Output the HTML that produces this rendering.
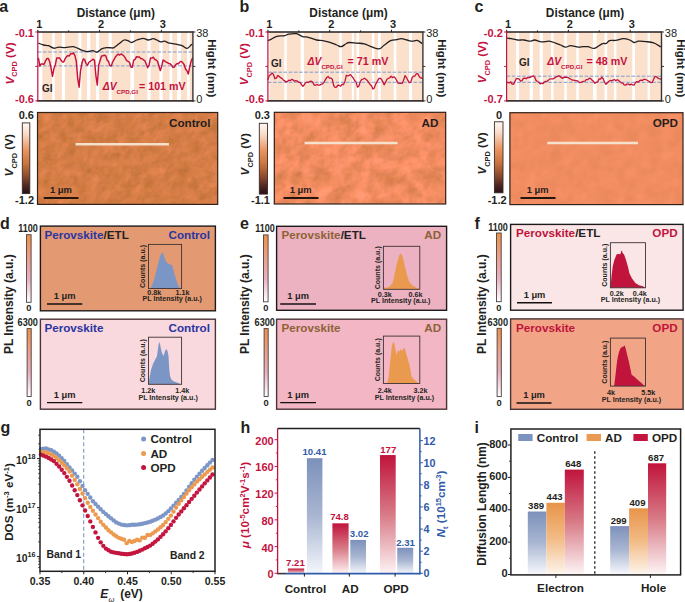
<!DOCTYPE html>
<html><head><meta charset="utf-8"><title>Figure</title>
<style>
html,body{margin:0;padding:0;background:#ffffff;}
body{width:685px;height:602px;overflow:hidden;}
svg{display:block;}
text{font-family:"Liberation Sans",sans-serif;}
</style></head><body>
<svg width="685" height="602" viewBox="0 0 685 602">
<rect x="0" y="0" width="685" height="602" fill="#ffffff"/>
<defs>
<linearGradient id="cbAFM" x1="0" y1="0" x2="0" y2="1">
 <stop offset="0" stop-color="#fffaf6"/>
 <stop offset="0.15" stop-color="#f9dccb"/>
 <stop offset="0.4" stop-color="#e8915b"/>
 <stop offset="0.58" stop-color="#c8743e"/>
 <stop offset="0.76" stop-color="#8a4a2e"/>
 <stop offset="0.9" stop-color="#4a2420"/>
 <stop offset="1" stop-color="#2a1018"/>
</linearGradient>
<linearGradient id="cbPL" x1="0" y1="0" x2="0" y2="1">
 <stop offset="0" stop-color="#ec9148"/>
 <stop offset="0.35" stop-color="#eba08c"/>
 <stop offset="0.65" stop-color="#e9b0c0"/>
 <stop offset="1" stop-color="#ffffff"/>
</linearGradient>
<linearGradient id="gRed" x1="0" y1="0" x2="0" y2="1">
 <stop offset="0" stop-color="#c0143c"/>
 <stop offset="0.5" stop-color="#d87a86"/>
 <stop offset="1" stop-color="#fdf3f4"/>
</linearGradient>
<linearGradient id="gBlue" x1="0" y1="0" x2="0" y2="1">
 <stop offset="0" stop-color="#7c91bb"/>
 <stop offset="0.5" stop-color="#a9b6d2"/>
 <stop offset="1" stop-color="#f4f6fb"/>
</linearGradient>
<linearGradient id="gOrg" x1="0" y1="0" x2="0" y2="1">
 <stop offset="0" stop-color="#e8944a"/>
 <stop offset="0.5" stop-color="#f2bb85"/>
 <stop offset="1" stop-color="#fdf4ea"/>
</linearGradient>
<filter id="afmA" x="0" y="0" width="1" height="1" color-interpolation-filters="sRGB">
 <feTurbulence type="fractalNoise" baseFrequency="0.09" numOctaves="3" seed="5" result="n"/>
 <feColorMatrix in="n" type="matrix" values="1 0 0 0 0  0.55 0 0 0 0.225  0.8 0 0 0 0.1  0 0 0 0 1" result="m"/>
 <feComposite in="SourceGraphic" in2="m" operator="arithmetic" k1="0" k2="1" k3="0.16" k4="-0.08" result="c"/>
 <feDiffuseLighting in="n" surfaceScale="1.4" diffuseConstant="1" lighting-color="#ffffff" result="L">
   <feDistantLight azimuth="225" elevation="55"/>
 </feDiffuseLighting>
 <feComposite in="c" in2="L" operator="arithmetic" k1="0.3" k2="0.755" k3="0" k4="0"/>
</filter>
<filter id="afmB" x="0" y="0" width="1" height="1" color-interpolation-filters="sRGB">
 <feTurbulence type="fractalNoise" baseFrequency="0.07" numOctaves="3" seed="7" result="n"/>
 <feColorMatrix in="n" type="matrix" values="1 0 0 0 0  0.55 0 0 0 0.225  0.8 0 0 0 0.1  0 0 0 0 1" result="m"/>
 <feComposite in="SourceGraphic" in2="m" operator="arithmetic" k1="0" k2="1" k3="0.28" k4="-0.14" result="c"/>
 <feDiffuseLighting in="n" surfaceScale="1.5" diffuseConstant="1" lighting-color="#ffffff" result="L">
   <feDistantLight azimuth="225" elevation="55"/>
 </feDiffuseLighting>
 <feComposite in="c" in2="L" operator="arithmetic" k1="0.3" k2="0.755" k3="0" k4="0"/>
</filter>
<filter id="afmC" x="0" y="0" width="1" height="1" color-interpolation-filters="sRGB">
 <feTurbulence type="fractalNoise" baseFrequency="0.08" numOctaves="2" seed="3" result="n"/>
 <feColorMatrix in="n" type="matrix" values="1 0 0 0 0  0.55 0 0 0 0.225  0.8 0 0 0 0.1  0 0 0 0 1" result="m"/>
 <feComposite in="SourceGraphic" in2="m" operator="arithmetic" k1="0" k2="1" k3="0.08" k4="-0.04" result="c"/>
 <feDiffuseLighting in="n" surfaceScale="0.5" diffuseConstant="1" lighting-color="#ffffff" result="L">
   <feDistantLight azimuth="225" elevation="55"/>
 </feDiffuseLighting>
 <feComposite in="c" in2="L" operator="arithmetic" k1="0.3" k2="0.755" k3="0" k4="0"/>
</filter>
</defs>
<text x="-0.80" y="12.00" font-size="16" font-weight="bold" fill="#231f20" text-anchor="start" >a</text>
<text x="239.50" y="12.00" font-size="16" font-weight="bold" fill="#231f20" text-anchor="start" >b</text>
<text x="474.60" y="12.00" font-size="16" font-weight="bold" fill="#231f20" text-anchor="start" >c</text>
<text x="0.00" y="229.00" font-size="16" font-weight="bold" fill="#231f20" text-anchor="start" >d</text>
<text x="240.00" y="228.60" font-size="16" font-weight="bold" fill="#231f20" text-anchor="start" >e</text>
<text x="474.50" y="228.60" font-size="16" font-weight="bold" fill="#231f20" text-anchor="start" >f</text>
<text x="0.50" y="432.50" font-size="16" font-weight="bold" fill="#231f20" text-anchor="start" >g</text>
<text x="240.50" y="432.90" font-size="16" font-weight="bold" fill="#231f20" text-anchor="start" >h</text>
<text x="474.50" y="432.60" font-size="16" font-weight="bold" fill="#231f20" text-anchor="start" >i</text>
<rect x="37.80" y="32.00" width="155.10" height="68.90" fill="#fbe0cc" stroke="none" stroke-width="1" />
<rect x="37.80" y="32.00" width="4.50" height="68.90" fill="#ffffff" stroke="none" stroke-width="1" />
<rect x="52.20" y="32.00" width="2.50" height="68.90" fill="#ffffff" stroke="none" stroke-width="1" />
<rect x="61.90" y="32.00" width="3.10" height="68.90" fill="#ffffff" stroke="none" stroke-width="1" />
<rect x="78.30" y="32.00" width="3.10" height="68.90" fill="#ffffff" stroke="none" stroke-width="1" />
<rect x="87.10" y="32.00" width="3.20" height="68.90" fill="#ffffff" stroke="none" stroke-width="1" />
<rect x="96.00" y="32.00" width="3.10" height="68.90" fill="#ffffff" stroke="none" stroke-width="1" />
<rect x="108.60" y="32.00" width="3.10" height="68.90" fill="#ffffff" stroke="none" stroke-width="1" />
<rect x="130.40" y="32.00" width="3.60" height="68.90" fill="#ffffff" stroke="none" stroke-width="1" />
<rect x="147.40" y="32.00" width="3.20" height="68.90" fill="#ffffff" stroke="none" stroke-width="1" />
<rect x="159.40" y="32.00" width="3.20" height="68.90" fill="#ffffff" stroke="none" stroke-width="1" />
<rect x="169.50" y="32.00" width="2.80" height="68.90" fill="#ffffff" stroke="none" stroke-width="1" />
<rect x="177.10" y="32.00" width="3.80" height="68.90" fill="#ffffff" stroke="none" stroke-width="1" />
<rect x="187.20" y="32.00" width="2.50" height="68.90" fill="#ffffff" stroke="none" stroke-width="1" />
<line x1="37.80" y1="52.00" x2="192.90" y2="52.00" stroke="#7f9ccf" stroke-width="1.0" stroke-dasharray="3.6,1.6"/>
<line x1="37.80" y1="65.90" x2="192.90" y2="65.90" stroke="#7f9ccf" stroke-width="1.0" stroke-dasharray="3.6,1.6"/>
<path d="M38.50,43.10 C39.35,43.42 41.92,44.57 43.60,45.00 C45.28,45.43 46.92,45.17 48.60,45.70 C50.28,46.23 52.02,47.95 53.70,48.20 C55.38,48.45 56.82,47.30 58.70,47.20 C60.58,47.10 62.68,47.68 65.00,47.60 C67.32,47.52 70.50,46.60 72.60,46.70 C74.70,46.80 75.92,47.57 77.60,48.20 C79.28,48.83 81.02,49.92 82.70,50.50 C84.38,51.08 86.02,51.67 87.70,51.70 C89.38,51.73 91.22,50.62 92.80,50.70 C94.38,50.78 95.73,52.52 97.20,52.20 C98.67,51.88 100.02,49.57 101.60,48.80 C103.18,48.03 105.02,47.75 106.70,47.60 C108.38,47.45 110.48,47.90 111.70,47.90 C112.92,47.90 112.78,48.28 114.00,47.60 C115.22,46.92 117.32,45.07 119.00,43.80 C120.68,42.53 122.62,40.53 124.10,40.00 C125.58,39.47 126.63,40.18 127.90,40.60 C129.17,41.02 130.23,42.60 131.70,42.50 C133.17,42.40 134.82,40.70 136.70,40.00 C138.58,39.30 141.10,38.30 143.00,38.30 C144.90,38.30 146.42,39.93 148.10,40.00 C149.78,40.07 151.63,38.70 153.10,38.70 C154.57,38.70 155.63,39.47 156.90,40.00 C158.17,40.53 159.43,41.70 160.70,41.90 C161.97,42.10 163.03,41.00 164.50,41.20 C165.97,41.40 167.40,42.57 169.50,43.10 C171.60,43.63 175.00,43.97 177.10,44.40 C179.20,44.83 180.42,45.03 182.10,45.70 C183.78,46.37 185.72,48.52 187.20,48.40 C188.68,48.28 190.13,45.70 191.00,45.00 C191.87,44.30 192.17,44.33 192.40,44.20" fill="none" stroke="#231f20" stroke-width="1.3" stroke-linejoin="round"/>
<polyline points="38.50,58.44 39.90,66.15 41.30,63.90 42.70,64.03 44.10,64.26 45.50,60.98 46.90,58.53 48.30,58.45 49.70,61.80 51.10,68.41 52.50,76.39 53.90,68.78 55.30,64.88 56.70,58.06 58.10,58.03 59.50,57.87 60.90,60.08 62.30,61.67 63.70,61.93 65.10,58.80 66.50,56.68 67.90,55.60 69.30,55.95 70.70,53.76 72.10,53.88 73.50,52.83 74.90,55.64 76.30,61.20 77.70,78.44 79.10,87.20 80.50,70.89 81.90,63.27 83.30,58.91 84.70,59.64 86.10,63.62 87.50,65.23 88.90,62.25 90.30,61.29 91.70,60.23 93.10,59.16 94.50,60.33 95.90,75.56 97.30,85.10 98.70,65.26 100.10,60.53 101.50,55.95 102.90,55.72 104.30,55.29 105.70,55.66 107.10,60.11 108.50,61.39 109.90,65.75 111.30,65.93 112.70,61.84 114.10,59.31 115.50,56.83 116.90,55.29 118.30,54.12 119.70,55.02 121.10,53.98 122.50,54.77 123.90,55.98 125.30,58.18 126.70,60.52 128.10,61.30 129.50,62.58 130.90,66.97 132.30,67.21 133.70,60.06 135.10,59.28 136.50,56.71 137.90,57.00 139.30,56.88 140.70,58.44 142.10,58.77 143.50,59.83 144.90,60.83 146.30,64.16 147.70,67.68 149.10,64.98 150.50,58.07 151.90,58.10 153.30,57.21 154.70,59.36 156.10,60.02 157.50,61.20 158.90,66.06 160.30,70.50 161.70,66.39 163.10,60.01 164.50,60.93 165.90,61.91 167.30,62.62 168.70,63.44 170.10,63.72 171.50,65.29 172.90,67.22 174.30,67.15 175.70,64.56 177.10,63.50 178.50,63.76 179.90,61.86 181.30,61.41 182.70,62.67 184.10,64.44 185.50,69.01 186.90,70.71 188.30,73.99 189.70,66.96 191.10,61.23 192.40,58.30" fill="none" stroke="#c4123f" stroke-width="1.45" stroke-linejoin="round" stroke-linecap="round" />
<line x1="37.30" y1="32.00" x2="193.50" y2="32.00" stroke="#231f20" stroke-width="1.6" />
<line x1="37.30" y1="100.90" x2="193.50" y2="100.90" stroke="#3a3435" stroke-width="1.6" />
<line x1="37.80" y1="32.00" x2="37.80" y2="101.40" stroke="#c4123f" stroke-width="1.2" />
<line x1="192.90" y1="31.40" x2="192.90" y2="101.70" stroke="#3a3435" stroke-width="1.4" />
<line x1="37.80" y1="32.00" x2="37.80" y2="29.80" stroke="#231f20" stroke-width="1.0" />
<line x1="68.70" y1="32.00" x2="68.70" y2="30.40" stroke="#231f20" stroke-width="1.0" />
<line x1="99.60" y1="32.00" x2="99.60" y2="29.80" stroke="#231f20" stroke-width="1.0" />
<line x1="130.50" y1="32.00" x2="130.50" y2="30.40" stroke="#231f20" stroke-width="1.0" />
<line x1="161.40" y1="32.00" x2="161.40" y2="29.80" stroke="#231f20" stroke-width="1.0" />
<text x="39.30" y="27.80" font-size="11" font-weight="bold" fill="#231f20" text-anchor="middle" >1</text>
<text x="101.10" y="27.80" font-size="11" font-weight="bold" fill="#231f20" text-anchor="middle" >2</text>
<text x="162.90" y="27.80" font-size="11" font-weight="bold" fill="#231f20" text-anchor="middle" >3</text>
<text x="115.80" y="16.80" font-size="11.85" font-weight="bold" fill="#231f20" text-anchor="middle" >Distance (μm)</text>
<line x1="35.30" y1="32.00" x2="37.80" y2="32.00" stroke="#c4123f" stroke-width="1.0" />
<line x1="35.30" y1="66.45" x2="37.80" y2="66.45" stroke="#c4123f" stroke-width="1.0" />
<line x1="35.30" y1="100.90" x2="37.80" y2="100.90" stroke="#c4123f" stroke-width="1.0" />
<text x="34.00" y="36.80" font-size="11" font-weight="bold" fill="#c4123f" text-anchor="end" >-0.1</text>
<text x="34.00" y="103.40" font-size="11" font-weight="bold" fill="#c4123f" text-anchor="end" >-0.6</text>
<line x1="192.90" y1="32.00" x2="195.40" y2="32.00" stroke="#3a3435" stroke-width="1.0" />
<line x1="192.90" y1="66.45" x2="195.40" y2="66.45" stroke="#3a3435" stroke-width="1.0" />
<line x1="192.90" y1="100.90" x2="195.40" y2="100.90" stroke="#3a3435" stroke-width="1.0" />
<text x="196.20" y="36.70" font-size="11" font-weight="normal" fill="#231f20" text-anchor="start" >38</text>
<text x="196.20" y="103.30" font-size="11" font-weight="normal" fill="#231f20" text-anchor="start" >0</text>
<text transform="translate(13.50,63.50) rotate(-90)" font-size="11.7" font-weight="bold" fill="#c4123f" text-anchor="middle"><tspan font-style="italic">V</tspan><tspan font-size="7.4" dy="3.8">CPD</tspan><tspan dy="-3.8"> (V)</tspan></text>
<text transform="translate(208.20,68.30) rotate(90)" font-size="11.65" font-weight="bold" fill="#231f20" text-anchor="middle">Hight (nm)</text>
<text x="42.00" y="92.00" font-size="10" font-weight="bold" fill="#2b2526" text-anchor="start" >GI</text>
<text x="102.80" y="89.80" font-size="10.7" font-weight="bold" fill="#c4123f"><tspan font-style="italic" font-size="10.3">ΔV</tspan><tspan font-size="6.2" dy="3.8">CPD,GI</tspan><tspan dy="-3.8" x="139.00">= 101 mV</tspan></text>
<rect x="267.90" y="32.00" width="155.00" height="68.90" fill="#fbe0cc" stroke="none" stroke-width="1" />
<rect x="267.90" y="32.00" width="1.60" height="68.90" fill="#ffffff" stroke="none" stroke-width="1" />
<rect x="284.30" y="32.00" width="2.50" height="68.90" fill="#ffffff" stroke="none" stroke-width="1" />
<rect x="300.70" y="32.00" width="3.20" height="68.90" fill="#ffffff" stroke="none" stroke-width="1" />
<rect x="319.00" y="32.00" width="2.50" height="68.90" fill="#ffffff" stroke="none" stroke-width="1" />
<rect x="339.20" y="32.00" width="2.50" height="68.90" fill="#ffffff" stroke="none" stroke-width="1" />
<rect x="351.80" y="32.00" width="2.00" height="68.90" fill="#ffffff" stroke="none" stroke-width="1" />
<rect x="356.60" y="32.00" width="2.50" height="68.90" fill="#ffffff" stroke="none" stroke-width="1" />
<rect x="372.00" y="32.00" width="2.30" height="68.90" fill="#ffffff" stroke="none" stroke-width="1" />
<rect x="378.10" y="32.00" width="2.70" height="68.90" fill="#ffffff" stroke="none" stroke-width="1" />
<rect x="393.80" y="32.00" width="2.60" height="68.90" fill="#ffffff" stroke="none" stroke-width="1" />
<rect x="409.00" y="32.00" width="3.10" height="68.90" fill="#ffffff" stroke="none" stroke-width="1" />
<line x1="267.90" y1="72.20" x2="422.90" y2="72.20" stroke="#7f9ccf" stroke-width="1.0" stroke-dasharray="3.6,1.6"/>
<line x1="267.90" y1="82.30" x2="422.90" y2="82.30" stroke="#7f9ccf" stroke-width="1.0" stroke-dasharray="3.6,1.6"/>
<path d="M267.90,40.60 C268.42,40.40 269.63,40.07 271.00,39.40 C272.37,38.73 273.78,37.23 276.10,36.60 C278.42,35.97 282.80,36.02 284.90,35.60 C287.00,35.18 286.80,34.42 288.70,34.10 C290.60,33.78 293.98,33.28 296.30,33.70 C298.62,34.12 300.72,36.03 302.60,36.60 C304.48,37.17 305.28,36.53 307.60,37.10 C309.92,37.67 313.97,39.42 316.50,40.00 C319.03,40.58 320.70,40.25 322.80,40.60 C324.90,40.95 326.78,41.37 329.10,42.10 C331.42,42.83 334.70,44.23 336.70,45.00 C338.70,45.77 339.55,46.90 341.10,46.70 C342.65,46.50 344.68,44.50 346.00,43.80 C347.32,43.10 347.23,42.62 349.00,42.50 C350.77,42.38 354.07,42.88 356.60,43.10 C359.13,43.32 361.67,43.17 364.20,43.80 C366.73,44.43 369.28,46.07 371.80,46.90 C374.32,47.73 377.20,49.12 379.30,48.80 C381.40,48.48 382.50,46.37 384.40,45.00 C386.30,43.63 388.60,41.50 390.70,40.60 C392.80,39.70 395.22,39.92 397.00,39.60 C398.78,39.28 399.72,38.63 401.40,38.70 C403.08,38.77 405.32,39.58 407.10,40.00 C408.88,40.42 410.42,41.13 412.10,41.20 C413.78,41.27 415.52,40.00 417.20,40.40 C418.88,40.80 421.37,43.07 422.20,43.60" fill="none" stroke="#231f20" stroke-width="1.3" stroke-linejoin="round"/>
<polyline points="267.90,79.61 269.30,75.61 270.70,74.59 272.10,72.94 273.50,74.70 274.90,78.72 276.30,78.11 277.70,75.48 279.10,76.34 280.50,77.69 281.90,78.38 283.30,79.93 284.70,80.84 286.10,82.02 287.50,81.48 288.90,80.15 290.30,80.62 291.70,79.36 293.10,79.95 294.50,81.21 295.90,80.72 297.30,81.09 298.70,82.35 300.10,82.39 301.50,84.71 302.90,86.19 304.30,84.69 305.70,82.73 307.10,82.13 308.50,82.43 309.90,81.30 311.30,81.25 312.70,82.15 314.10,84.84 315.50,85.30 316.90,84.50 318.30,85.19 319.70,85.04 321.10,84.40 322.50,83.88 323.90,82.44 325.30,79.86 326.70,77.54 328.10,76.44 329.50,78.10 330.90,78.06 332.30,79.18 333.70,85.63 335.10,87.46 336.50,87.01 337.90,85.21 339.30,85.48 340.70,86.22 342.10,84.39 343.50,84.48 344.90,81.73 346.30,75.37 347.70,75.83 349.10,75.31 350.50,74.69 351.90,76.32 353.30,78.17 354.70,80.79 356.10,82.11 357.50,87.17 358.90,85.97 360.30,81.61 361.70,79.49 363.10,79.04 364.50,78.22 365.90,79.20 367.30,80.44 368.70,82.67 370.10,84.46 371.50,85.79 372.90,89.03 374.30,87.89 375.70,84.09 377.10,81.67 378.50,79.09 379.90,78.06 381.30,79.15 382.70,81.57 384.10,84.81 385.50,82.44 386.90,79.29 388.30,78.44 389.70,77.74 391.10,76.19 392.50,77.48 393.90,76.80 395.30,77.99 396.70,80.60 398.10,83.12 399.50,83.30 400.90,83.29 402.30,83.29 403.70,79.85 405.10,75.56 406.50,77.56 407.90,80.42 409.30,82.74 410.70,82.40 412.10,77.78 413.50,76.13 414.90,76.02 416.30,73.78 417.70,73.59 419.10,76.23 420.50,77.93 421.90,78.01 422.20,78.50" fill="none" stroke="#c4123f" stroke-width="1.3" stroke-linejoin="round" stroke-linecap="round" />
<line x1="267.40" y1="32.00" x2="423.50" y2="32.00" stroke="#231f20" stroke-width="1.6" />
<line x1="267.40" y1="100.90" x2="423.50" y2="100.90" stroke="#3a3435" stroke-width="1.6" />
<line x1="267.90" y1="32.00" x2="267.90" y2="101.40" stroke="#c4123f" stroke-width="1.2" />
<line x1="422.90" y1="31.40" x2="422.90" y2="101.70" stroke="#3a3435" stroke-width="1.4" />
<line x1="267.90" y1="32.00" x2="267.90" y2="29.80" stroke="#231f20" stroke-width="1.0" />
<line x1="298.80" y1="32.00" x2="298.80" y2="30.40" stroke="#231f20" stroke-width="1.0" />
<line x1="329.70" y1="32.00" x2="329.70" y2="29.80" stroke="#231f20" stroke-width="1.0" />
<line x1="360.60" y1="32.00" x2="360.60" y2="30.40" stroke="#231f20" stroke-width="1.0" />
<line x1="391.50" y1="32.00" x2="391.50" y2="29.80" stroke="#231f20" stroke-width="1.0" />
<text x="269.40" y="27.80" font-size="11" font-weight="bold" fill="#231f20" text-anchor="middle" >1</text>
<text x="331.20" y="27.80" font-size="11" font-weight="bold" fill="#231f20" text-anchor="middle" >2</text>
<text x="393.00" y="27.80" font-size="11" font-weight="bold" fill="#231f20" text-anchor="middle" >3</text>
<text x="348.50" y="16.80" font-size="11.85" font-weight="bold" fill="#231f20" text-anchor="middle" >Distance (μm)</text>
<line x1="265.40" y1="32.00" x2="267.90" y2="32.00" stroke="#c4123f" stroke-width="1.0" />
<line x1="265.40" y1="66.45" x2="267.90" y2="66.45" stroke="#c4123f" stroke-width="1.0" />
<line x1="265.40" y1="100.90" x2="267.90" y2="100.90" stroke="#c4123f" stroke-width="1.0" />
<text x="264.10" y="36.80" font-size="11" font-weight="bold" fill="#c4123f" text-anchor="end" >-0.1</text>
<text x="264.10" y="103.40" font-size="11" font-weight="bold" fill="#c4123f" text-anchor="end" >-0.6</text>
<line x1="422.90" y1="32.00" x2="425.40" y2="32.00" stroke="#3a3435" stroke-width="1.0" />
<line x1="422.90" y1="66.45" x2="425.40" y2="66.45" stroke="#3a3435" stroke-width="1.0" />
<line x1="422.90" y1="100.90" x2="425.40" y2="100.90" stroke="#3a3435" stroke-width="1.0" />
<text x="426.20" y="36.70" font-size="11" font-weight="normal" fill="#231f20" text-anchor="start" >38</text>
<text x="426.20" y="103.30" font-size="11" font-weight="normal" fill="#231f20" text-anchor="start" >0</text>
<text transform="translate(248.00,64.20) rotate(-90)" font-size="11.7" font-weight="bold" fill="#c4123f" text-anchor="middle"><tspan font-style="italic">V</tspan><tspan font-size="7.4" dy="3.8">CPD</tspan><tspan dy="-3.8"> (V)</tspan></text>
<text transform="translate(438.20,68.30) rotate(90)" font-size="11.65" font-weight="bold" fill="#231f20" text-anchor="middle">Hight (nm)</text>
<text x="271.00" y="66.50" font-size="10" font-weight="bold" fill="#2b2526" text-anchor="start" >GI</text>
<text x="307.60" y="64.80" font-size="10.7" font-weight="bold" fill="#c4123f"><tspan font-style="italic" font-size="10.3">ΔV</tspan><tspan font-size="6.2" dy="3.8">CPD,GI</tspan><tspan dy="-3.8" x="347.60">= 71 mV</tspan></text>
<rect x="506.60" y="32.00" width="154.90" height="68.90" fill="#fbe0cc" stroke="none" stroke-width="1" />
<rect x="516.10" y="32.00" width="2.80" height="68.90" fill="#ffffff" stroke="none" stroke-width="1" />
<rect x="529.60" y="32.00" width="3.20" height="68.90" fill="#ffffff" stroke="none" stroke-width="1" />
<rect x="539.70" y="32.00" width="3.20" height="68.90" fill="#ffffff" stroke="none" stroke-width="1" />
<rect x="551.10" y="32.00" width="2.50" height="68.90" fill="#ffffff" stroke="none" stroke-width="1" />
<rect x="564.30" y="32.00" width="2.50" height="68.90" fill="#ffffff" stroke="none" stroke-width="1" />
<rect x="576.30" y="32.00" width="2.50" height="68.90" fill="#ffffff" stroke="none" stroke-width="1" />
<rect x="593.10" y="32.00" width="3.50" height="68.90" fill="#ffffff" stroke="none" stroke-width="1" />
<rect x="604.50" y="32.00" width="2.70" height="68.90" fill="#ffffff" stroke="none" stroke-width="1" />
<rect x="613.90" y="32.00" width="2.50" height="68.90" fill="#ffffff" stroke="none" stroke-width="1" />
<rect x="632.20" y="32.00" width="2.80" height="68.90" fill="#ffffff" stroke="none" stroke-width="1" />
<rect x="647.60" y="32.00" width="2.30" height="68.90" fill="#ffffff" stroke="none" stroke-width="1" />
<line x1="506.60" y1="76.20" x2="661.50" y2="76.20" stroke="#7f9ccf" stroke-width="1.0" stroke-dasharray="3.6,1.6"/>
<line x1="506.60" y1="82.30" x2="661.50" y2="82.30" stroke="#7f9ccf" stroke-width="1.0" stroke-dasharray="3.6,1.6"/>
<path d="M506.60,38.10 C507.38,38.20 509.47,38.38 511.30,38.70 C513.13,39.02 515.50,39.78 517.60,40.00 C519.70,40.22 521.80,39.80 523.90,40.00 C526.00,40.20 528.40,41.20 530.20,41.20 C532.00,41.20 532.80,39.88 534.70,40.00 C536.60,40.12 539.18,41.70 541.60,41.90 C544.02,42.10 546.88,41.00 549.20,41.20 C551.52,41.40 553.62,42.47 555.50,43.10 C557.38,43.73 558.82,44.32 560.50,45.00 C562.18,45.68 563.92,47.08 565.60,47.20 C567.28,47.32 568.50,45.70 570.60,45.70 C572.70,45.70 576.13,47.03 578.20,47.20 C580.27,47.37 581.37,46.78 583.00,46.70 C584.63,46.62 586.10,46.42 588.00,46.70 C589.90,46.98 592.08,48.88 594.40,48.40 C596.72,47.92 599.92,44.63 601.90,43.80 C603.88,42.97 605.03,43.93 606.30,43.40 C607.57,42.87 607.92,41.10 609.50,40.60 C611.08,40.10 613.48,40.72 615.80,40.40 C618.12,40.08 621.08,38.77 623.40,38.70 C625.72,38.63 627.92,39.37 629.70,40.00 C631.48,40.63 632.63,42.30 634.10,42.50 C635.57,42.70 636.50,41.35 638.50,41.20 C640.50,41.05 643.57,41.32 646.10,41.60 C648.63,41.88 651.25,42.02 653.70,42.90 C656.15,43.78 659.62,46.23 660.80,46.90" fill="none" stroke="#231f20" stroke-width="1.3" stroke-linejoin="round"/>
<polyline points="506.60,82.36 508.00,82.66 509.40,82.95 510.80,81.87 512.20,84.18 513.60,84.16 515.00,81.33 516.40,78.43 517.80,78.55 519.20,79.15 520.60,81.03 522.00,80.70 523.40,78.40 524.80,78.18 526.20,78.62 527.60,77.66 529.00,77.51 530.40,77.25 531.80,76.35 533.20,75.80 534.60,77.11 536.00,80.37 537.40,81.47 538.80,82.28 540.20,83.91 541.60,83.25 543.00,83.51 544.40,81.78 545.80,81.28 547.20,81.24 548.60,80.11 550.00,78.88 551.40,78.82 552.80,78.90 554.20,78.35 555.60,77.18 557.00,76.68 558.40,75.67 559.80,76.36 561.20,77.39 562.60,78.37 564.00,77.25 565.40,77.11 566.80,77.25 568.20,77.66 569.60,78.57 571.00,79.26 572.40,80.20 573.80,80.12 575.20,80.72 576.60,80.72 578.00,81.22 579.40,82.59 580.80,82.39 582.20,81.87 583.60,81.40 585.00,81.08 586.40,79.56 587.80,79.59 589.20,78.21 590.60,78.58 592.00,80.05 593.40,81.28 594.80,83.43 596.20,82.11 597.60,82.02 599.00,78.99 600.40,79.13 601.80,77.22 603.20,78.87 604.60,82.24 606.00,84.31 607.40,82.75 608.80,81.46 610.20,80.41 611.60,80.87 613.00,80.16 614.40,79.48 615.80,80.78 617.20,79.78 618.60,80.43 620.00,81.75 621.40,82.90 622.80,83.03 624.20,84.94 625.60,85.11 627.00,84.11 628.40,84.09 629.80,84.85 631.20,84.21 632.60,84.88 634.00,85.23 635.40,82.76 636.80,81.59 638.20,82.15 639.60,80.68 641.00,80.12 642.40,80.54 643.80,79.37 645.20,79.28 646.60,79.98 648.00,80.69 649.40,81.54 650.80,82.60 652.20,82.40 653.60,79.21 655.00,76.57 656.40,76.58 657.80,78.04 659.20,78.66 660.60,79.18 660.80,79.10" fill="none" stroke="#c4123f" stroke-width="1.3" stroke-linejoin="round" stroke-linecap="round" />
<line x1="506.10" y1="32.00" x2="662.10" y2="32.00" stroke="#231f20" stroke-width="1.6" />
<line x1="506.10" y1="100.90" x2="662.10" y2="100.90" stroke="#3a3435" stroke-width="1.6" />
<line x1="506.60" y1="32.00" x2="506.60" y2="101.40" stroke="#c4123f" stroke-width="1.2" />
<line x1="661.50" y1="31.40" x2="661.50" y2="101.70" stroke="#3a3435" stroke-width="1.4" />
<line x1="506.60" y1="32.00" x2="506.60" y2="29.80" stroke="#231f20" stroke-width="1.0" />
<line x1="537.50" y1="32.00" x2="537.50" y2="30.40" stroke="#231f20" stroke-width="1.0" />
<line x1="568.40" y1="32.00" x2="568.40" y2="29.80" stroke="#231f20" stroke-width="1.0" />
<line x1="599.30" y1="32.00" x2="599.30" y2="30.40" stroke="#231f20" stroke-width="1.0" />
<line x1="630.20" y1="32.00" x2="630.20" y2="29.80" stroke="#231f20" stroke-width="1.0" />
<text x="508.10" y="27.80" font-size="11" font-weight="bold" fill="#231f20" text-anchor="middle" >1</text>
<text x="569.90" y="27.80" font-size="11" font-weight="bold" fill="#231f20" text-anchor="middle" >2</text>
<text x="631.70" y="27.80" font-size="11" font-weight="bold" fill="#231f20" text-anchor="middle" >3</text>
<text x="585.00" y="16.80" font-size="11.85" font-weight="bold" fill="#231f20" text-anchor="middle" >Distance (μm)</text>
<line x1="504.10" y1="32.00" x2="506.60" y2="32.00" stroke="#c4123f" stroke-width="1.0" />
<line x1="504.10" y1="66.45" x2="506.60" y2="66.45" stroke="#c4123f" stroke-width="1.0" />
<line x1="504.10" y1="100.90" x2="506.60" y2="100.90" stroke="#c4123f" stroke-width="1.0" />
<text x="502.80" y="36.80" font-size="11" font-weight="bold" fill="#c4123f" text-anchor="end" >-0.2</text>
<text x="502.80" y="103.40" font-size="11" font-weight="bold" fill="#c4123f" text-anchor="end" >-0.7</text>
<line x1="661.50" y1="32.00" x2="664.00" y2="32.00" stroke="#3a3435" stroke-width="1.0" />
<line x1="661.50" y1="66.45" x2="664.00" y2="66.45" stroke="#3a3435" stroke-width="1.0" />
<line x1="661.50" y1="100.90" x2="664.00" y2="100.90" stroke="#3a3435" stroke-width="1.0" />
<text x="664.80" y="36.70" font-size="11" font-weight="normal" fill="#231f20" text-anchor="start" >38</text>
<text x="664.80" y="103.30" font-size="11" font-weight="normal" fill="#231f20" text-anchor="start" >0</text>
<text transform="translate(486.00,62.20) rotate(-90)" font-size="11.7" font-weight="bold" fill="#c4123f" text-anchor="middle"><tspan font-style="italic">V</tspan><tspan font-size="7.4" dy="3.8">CPD</tspan><tspan dy="-3.8"> (V)</tspan></text>
<text transform="translate(676.80,68.30) rotate(90)" font-size="11.65" font-weight="bold" fill="#231f20" text-anchor="middle">Hight (nm)</text>
<text x="518.90" y="65.90" font-size="10" font-weight="bold" fill="#2b2526" text-anchor="start" >GI</text>
<text x="547.30" y="64.80" font-size="10.7" font-weight="bold" fill="#c4123f"><tspan font-style="italic" font-size="10.3">ΔV</tspan><tspan font-size="6.2" dy="3.8">CPD,GI</tspan><tspan dy="-3.8" x="586.60">= 48 mV</tspan></text>
<rect x="37.50" y="112.50" width="180.20" height="91.90" fill="#d57d46" stroke="none" stroke-width="1" filter="url(#afmA)"/>
<rect x="37.50" y="112.50" width="180.20" height="91.90" fill="none" stroke="#33221c" stroke-width="1.2" />
<text x="210.50" y="126.80" font-size="11.7" font-weight="bold" fill="#231f20" text-anchor="end" >Control</text>
<line x1="75.50" y1="144.30" x2="168.90" y2="144.30" stroke="#f7e6d2" stroke-width="2.4" opacity="0.95"/>
<line x1="43.80" y1="198.00" x2="78.50" y2="198.00" stroke="#24160f" stroke-width="1.8" />
<text x="60.85" y="193.10" font-size="9.4" font-weight="bold" fill="#231f20" text-anchor="middle" >1 μm</text>
<rect x="22.30" y="122.90" width="7.50" height="70.70" fill="url(#cbAFM)" stroke="#3a2a26" stroke-width="0.9" />
<text x="26.35" y="119.40" font-size="11" font-weight="bold" fill="#231f20" text-anchor="middle" >0.6</text>
<text x="24.55" y="204.20" font-size="11" font-weight="bold" fill="#231f20" text-anchor="middle" >-1.2</text>
<text transform="translate(12.80,155.30) rotate(-90)" font-size="11.7" font-weight="bold" fill="#231f20" text-anchor="middle"><tspan font-style="italic">V</tspan><tspan font-size="7.4" dy="3.8">CPD</tspan><tspan dy="-3.8"> (V)</tspan></text>
<rect x="274.30" y="112.30" width="171.40" height="91.70" fill="#f18c60" stroke="none" stroke-width="1" filter="url(#afmB)"/>
<rect x="274.30" y="112.30" width="171.40" height="91.70" fill="none" stroke="#33221c" stroke-width="1.2" />
<text x="438.40" y="126.80" font-size="11.7" font-weight="bold" fill="#231f20" text-anchor="end" >AD</text>
<line x1="304.60" y1="143.00" x2="397.60" y2="143.00" stroke="#f7e6d2" stroke-width="2.4" opacity="0.95"/>
<line x1="283.50" y1="198.00" x2="318.50" y2="198.00" stroke="#24160f" stroke-width="1.8" />
<text x="300.70" y="193.10" font-size="9.4" font-weight="bold" fill="#231f20" text-anchor="middle" >1 μm</text>
<rect x="259.30" y="123.30" width="8.20" height="70.80" fill="url(#cbAFM)" stroke="#3a2a26" stroke-width="0.9" />
<text x="262.30" y="119.40" font-size="11" font-weight="bold" fill="#231f20" text-anchor="middle" >0.3</text>
<text x="260.50" y="204.20" font-size="11" font-weight="bold" fill="#231f20" text-anchor="middle" >-1.1</text>
<text transform="translate(248.80,154.30) rotate(-90)" font-size="11.7" font-weight="bold" fill="#231f20" text-anchor="middle"><tspan font-style="italic">V</tspan><tspan font-size="7.4" dy="3.8">CPD</tspan><tspan dy="-3.8"> (V)</tspan></text>
<rect x="509.90" y="112.70" width="173.10" height="91.90" fill="#f08c60" stroke="none" stroke-width="1" filter="url(#afmC)"/>
<rect x="509.90" y="112.70" width="173.10" height="91.90" fill="none" stroke="#33221c" stroke-width="1.2" />
<text x="678.00" y="126.80" font-size="11.7" font-weight="bold" fill="#231f20" text-anchor="end" >OPD</text>
<line x1="547.30" y1="143.00" x2="638.00" y2="143.00" stroke="#f7e6d2" stroke-width="2.4" opacity="0.95"/>
<line x1="520.50" y1="198.00" x2="555.50" y2="198.00" stroke="#24160f" stroke-width="1.8" />
<text x="537.70" y="193.10" font-size="9.4" font-weight="bold" fill="#231f20" text-anchor="middle" >1 μm</text>
<rect x="494.40" y="121.80" width="8.60" height="71.00" fill="url(#cbAFM)" stroke="#3a2a26" stroke-width="0.9" />
<text x="499.00" y="119.40" font-size="11" font-weight="bold" fill="#231f20" text-anchor="middle" >0</text>
<text x="497.20" y="204.20" font-size="11" font-weight="bold" fill="#231f20" text-anchor="middle" >-1.2</text>
<text transform="translate(486.00,153.50) rotate(-90)" font-size="11.7" font-weight="bold" fill="#231f20" text-anchor="middle"><tspan font-style="italic">V</tspan><tspan font-size="7.4" dy="3.8">CPD</tspan><tspan dy="-3.8"> (V)</tspan></text>
<rect x="40.40" y="226.10" width="175.00" height="84.70" fill="#e39a73" stroke="none" stroke-width="1" />
<rect x="40.40" y="226.10" width="175.00" height="84.70" fill="none" stroke="#1e1a1b" stroke-width="1.4" />
<text x="44.40" y="238.90" font-size="11.7" font-weight="bold" fill="#2b35a2">Perovskite<tspan fill="#231f20">/ETL</tspan></text>
<text x="210.00" y="238.90" font-size="11.7" font-weight="bold" fill="#2b35a2" text-anchor="end" >Control</text>
<polygon points="151.00,288.00 154.00,280.00 157.00,268.00 159.50,258.00 161.00,254.00 162.20,252.00 163.50,254.50 165.00,259.00 166.50,262.00 168.00,263.50 170.00,264.50 172.00,265.00 173.00,268.00 174.50,274.00 176.00,279.00 178.00,285.00 180.00,288.00 180.00,288.50 151.00,288.50" fill="#7b96c4"/>
<rect x="148.50" y="244.40" width="33.10" height="44.10" fill="none" stroke="#3d3233" stroke-width="0.9" />
<text x="154.30" y="294.60" font-size="7.2" font-weight="bold" fill="#231f20" text-anchor="middle" >0.8k</text>
<text x="182.55" y="294.60" font-size="7.2" font-weight="bold" fill="#231f20" text-anchor="middle" >1.1k</text>
<text x="172.20" y="301.40" font-size="7.15" font-weight="bold" fill="#231f20" text-anchor="middle" >PL Intensity (a.u.)</text>
<text transform="translate(145.20,266.45) rotate(-90)" font-size="7.05" font-weight="bold" fill="#231f20" text-anchor="middle">Counts (a.u.)</text>
<line x1="47.00" y1="304.00" x2="82.30" y2="304.00" stroke="#141012" stroke-width="1.4" />
<text x="64.65" y="299.20" font-size="9.3" font-weight="bold" fill="#231f20" text-anchor="middle" >1 μm</text>
<rect x="26.50" y="234.70" width="4.60" height="67.60" fill="url(#cbPL)" stroke="#4a4042" stroke-width="0.9" />
<text x="28.00" y="232.20" font-size="10" font-weight="bold" fill="#231f20" text-anchor="middle" textLength="19.6" lengthAdjust="spacingAndGlyphs">1100</text>
<text x="28.80" y="311.20" font-size="9.3" font-weight="bold" fill="#231f20" text-anchor="middle" >0</text>
<rect x="40.40" y="319.20" width="175.00" height="90.00" fill="#f9d9de" stroke="none" stroke-width="1" />
<rect x="40.40" y="319.20" width="175.00" height="90.00" fill="none" stroke="#4a3536" stroke-width="1.4" />
<text x="44.40" y="332.20" font-size="11.7" font-weight="bold" fill="#2b35a2" text-anchor="start" >Perovskite</text>
<text x="210.00" y="332.20" font-size="11.7" font-weight="bold" fill="#2b35a2" text-anchor="end" >Control</text>
<polygon points="148.70,384.30 149.50,378.00 151.00,370.00 153.00,364.00 155.00,360.00 157.00,356.00 158.20,347.00 159.10,341.70 160.00,344.00 161.00,349.00 162.00,353.00 163.60,355.90 165.00,351.00 166.30,349.10 167.50,351.00 168.50,356.00 169.20,368.00 170.00,376.00 171.50,379.80 174.00,381.50 177.00,382.50 180.80,384.30 180.80,384.30 148.70,384.30" fill="#7b96c4"/>
<rect x="148.50" y="337.20" width="33.10" height="47.10" fill="none" stroke="#3d3233" stroke-width="0.9" />
<text x="148.20" y="393.40" font-size="7.2" font-weight="bold" fill="#231f20" text-anchor="middle" >1.2k</text>
<text x="182.30" y="393.40" font-size="7.2" font-weight="bold" fill="#231f20" text-anchor="middle" >1.4k</text>
<text x="168.10" y="399.80" font-size="7.15" font-weight="bold" fill="#231f20" text-anchor="middle" >PL Intensity (a.u.)</text>
<text transform="translate(145.20,360.75) rotate(-90)" font-size="7.05" font-weight="bold" fill="#231f20" text-anchor="middle">Counts (a.u.)</text>
<line x1="47.00" y1="402.60" x2="82.30" y2="402.60" stroke="#141012" stroke-width="1.4" />
<text x="64.65" y="397.80" font-size="9.3" font-weight="bold" fill="#231f20" text-anchor="middle" >1 μm</text>
<rect x="27.10" y="328.60" width="4.10" height="67.90" fill="url(#cbPL)" stroke="#4a4042" stroke-width="0.9" />
<text x="27.75" y="326.00" font-size="10" font-weight="bold" fill="#231f20" text-anchor="middle" textLength="20.4" lengthAdjust="spacingAndGlyphs">6300</text>
<text x="29.15" y="406.20" font-size="9.3" font-weight="bold" fill="#231f20" text-anchor="middle" >0</text>
<text transform="translate(12.60,304.20) rotate(-90)" font-size="12" font-weight="bold" fill="#231f20" text-anchor="middle">PL Intensity (a.u.)</text>
<rect x="276.60" y="226.30" width="170.00" height="84.00" fill="#ecb2c1" stroke="none" stroke-width="1" />
<rect x="276.60" y="226.30" width="170.00" height="84.00" fill="none" stroke="#1e1a1b" stroke-width="1.4" />
<text x="281.50" y="239.10" font-size="11.7" font-weight="bold" fill="#8d6236">Perovskite<tspan fill="#231f20">/ETL</tspan></text>
<text x="441.20" y="239.10" font-size="11.7" font-weight="bold" fill="#8d6236" text-anchor="end" >AD</text>
<polygon points="383.50,289.30 383.50,287.80 388.00,287.50 390.60,285.60 392.50,283.00 393.60,279.00 395.00,272.00 397.00,263.00 399.00,256.00 400.40,253.50 402.00,255.00 403.50,260.00 405.00,267.00 407.00,275.00 409.30,281.90 412.00,285.00 415.00,287.00 418.30,288.50 419.80,289.30 419.80,289.30 383.50,289.30" fill="#ea9a4e"/>
<rect x="383.40" y="246.30" width="36.40" height="43.00" fill="none" stroke="#3d3233" stroke-width="0.9" />
<text x="384.70" y="296.50" font-size="7.2" font-weight="bold" fill="#231f20" text-anchor="middle" >0.3k</text>
<text x="415.50" y="296.50" font-size="7.2" font-weight="bold" fill="#231f20" text-anchor="middle" >0.6k</text>
<text x="400.75" y="303.40" font-size="7.15" font-weight="bold" fill="#231f20" text-anchor="middle" >PL Intensity (a.u.)</text>
<text transform="translate(380.10,267.80) rotate(-90)" font-size="7.05" font-weight="bold" fill="#231f20" text-anchor="middle">Counts (a.u.)</text>
<line x1="280.20" y1="304.00" x2="316.00" y2="304.00" stroke="#141012" stroke-width="1.4" />
<text x="298.10" y="299.20" font-size="9.3" font-weight="bold" fill="#231f20" text-anchor="middle" >1 μm</text>
<rect x="263.50" y="234.90" width="4.60" height="66.90" fill="url(#cbPL)" stroke="#4a4042" stroke-width="0.9" />
<text x="265.00" y="232.40" font-size="10" font-weight="bold" fill="#231f20" text-anchor="middle" textLength="19.6" lengthAdjust="spacingAndGlyphs">1100</text>
<text x="265.80" y="310.70" font-size="9.3" font-weight="bold" fill="#231f20" text-anchor="middle" >0</text>
<rect x="276.60" y="319.20" width="170.00" height="90.00" fill="#f2b6c5" stroke="none" stroke-width="1" />
<rect x="276.60" y="319.20" width="170.00" height="90.00" fill="none" stroke="#4a3536" stroke-width="1.4" />
<text x="281.50" y="332.20" font-size="11.7" font-weight="bold" fill="#8d6236" text-anchor="start" >Perovskite</text>
<text x="441.20" y="332.20" font-size="11.7" font-weight="bold" fill="#8d6236" text-anchor="end" >AD</text>
<polygon points="387.00,383.50 388.50,378.00 389.50,368.00 390.60,357.40 391.80,346.00 393.20,341.70 394.50,344.00 395.50,350.00 396.60,355.10 397.80,350.00 399.00,352.00 400.50,349.00 402.00,351.00 403.50,348.00 404.80,348.40 406.00,353.00 407.80,358.90 409.50,365.00 411.60,376.80 414.00,379.50 416.50,381.50 419.00,383.50 419.00,383.50 387.00,383.50" fill="#ea9a4e"/>
<rect x="383.40" y="336.10" width="36.40" height="47.40" fill="none" stroke="#3d3233" stroke-width="0.9" />
<text x="384.70" y="392.70" font-size="7.2" font-weight="bold" fill="#231f20" text-anchor="middle" >2.4k</text>
<text x="420.55" y="392.70" font-size="7.2" font-weight="bold" fill="#231f20" text-anchor="middle" >3.2k</text>
<text x="404.50" y="399.80" font-size="7.15" font-weight="bold" fill="#231f20" text-anchor="middle" >PL Intensity (a.u.)</text>
<text transform="translate(380.10,359.80) rotate(-90)" font-size="7.05" font-weight="bold" fill="#231f20" text-anchor="middle">Counts (a.u.)</text>
<line x1="280.20" y1="402.60" x2="316.00" y2="402.60" stroke="#141012" stroke-width="1.4" />
<text x="298.10" y="397.80" font-size="9.3" font-weight="bold" fill="#231f20" text-anchor="middle" >1 μm</text>
<rect x="264.10" y="328.60" width="4.10" height="67.90" fill="url(#cbPL)" stroke="#4a4042" stroke-width="0.9" />
<text x="264.75" y="326.00" font-size="10" font-weight="bold" fill="#231f20" text-anchor="middle" textLength="20.4" lengthAdjust="spacingAndGlyphs">6300</text>
<text x="266.15" y="406.20" font-size="9.3" font-weight="bold" fill="#231f20" text-anchor="middle" >0</text>
<text transform="translate(249.10,304.20) rotate(-90)" font-size="12" font-weight="bold" fill="#231f20" text-anchor="middle">PL Intensity (a.u.)</text>
<rect x="510.60" y="224.40" width="172.50" height="85.80" fill="#fbe6e7" stroke="none" stroke-width="1" />
<rect x="510.60" y="224.40" width="172.50" height="85.80" fill="none" stroke="#1e1a1b" stroke-width="1.4" />
<text x="516.00" y="237.20" font-size="11.7" font-weight="bold" fill="#c0143c">Perovskite<tspan fill="#231f20">/ETL</tspan></text>
<text x="677.70" y="237.20" font-size="11.7" font-weight="bold" fill="#c0143c" text-anchor="end" >OPD</text>
<polygon points="610.60,287.80 611.50,276.00 612.80,266.00 614.40,259.80 616.70,254.20 618.50,254.00 620.40,254.20 621.30,251.00 621.90,250.40 622.60,253.00 624.10,254.60 626.00,260.00 628.00,267.00 629.40,273.30 632.00,278.50 635.40,283.00 639.00,285.20 643.00,286.30 645.50,287.80 645.50,287.80 610.60,287.80" fill="#c0143c"/>
<rect x="610.40" y="242.70" width="35.10" height="45.10" fill="none" stroke="#3d3233" stroke-width="0.9" />
<text x="616.80" y="295.80" font-size="7.2" font-weight="bold" fill="#231f20" text-anchor="middle" >0.2k</text>
<text x="639.85" y="295.80" font-size="7.2" font-weight="bold" fill="#231f20" text-anchor="middle" >0.4k</text>
<text x="630.50" y="302.30" font-size="7.15" font-weight="bold" fill="#231f20" text-anchor="middle" >PL Intensity (a.u.)</text>
<text transform="translate(607.10,265.25) rotate(-90)" font-size="7.05" font-weight="bold" fill="#231f20" text-anchor="middle">Counts (a.u.)</text>
<line x1="517.00" y1="302.70" x2="552.00" y2="302.70" stroke="#141012" stroke-width="1.4" />
<text x="534.50" y="297.90" font-size="9.3" font-weight="bold" fill="#231f20" text-anchor="middle" >1 μm</text>
<rect x="496.50" y="233.00" width="4.70" height="68.70" fill="url(#cbPL)" stroke="#4a4042" stroke-width="0.9" />
<text x="498.05" y="230.50" font-size="10" font-weight="bold" fill="#231f20" text-anchor="middle" textLength="19.6" lengthAdjust="spacingAndGlyphs">1100</text>
<text x="498.85" y="310.60" font-size="9.3" font-weight="bold" fill="#231f20" text-anchor="middle" >0</text>
<rect x="510.60" y="318.90" width="172.50" height="90.40" fill="#f2a487" stroke="none" stroke-width="1" />
<rect x="510.60" y="318.90" width="172.50" height="90.40" fill="none" stroke="#4a3536" stroke-width="1.4" />
<text x="516.00" y="331.90" font-size="11.7" font-weight="bold" fill="#c0143c" text-anchor="start" >Perovskite</text>
<text x="677.70" y="331.90" font-size="11.7" font-weight="bold" fill="#c0143c" text-anchor="end" >OPD</text>
<polygon points="614.20,386.10 615.50,375.00 616.60,365.00 617.70,357.30 619.00,352.00 620.30,348.60 622.00,347.00 623.50,346.50 624.70,345.50 625.80,349.00 627.30,355.60 629.00,362.00 631.60,374.80 633.50,376.00 636.00,378.30 639.00,381.00 641.50,383.00 643.80,385.20 645.50,386.10 645.50,386.10 614.20,386.10" fill="#c0143c"/>
<rect x="610.40" y="338.10" width="35.10" height="48.00" fill="none" stroke="#3d3233" stroke-width="0.9" />
<text x="610.90" y="394.80" font-size="7.2" font-weight="bold" fill="#231f20" text-anchor="middle" >4k</text>
<text x="648.20" y="394.80" font-size="7.2" font-weight="bold" fill="#231f20" text-anchor="middle" >5.5k</text>
<text x="631.45" y="401.70" font-size="7.15" font-weight="bold" fill="#231f20" text-anchor="middle" >PL Intensity (a.u.)</text>
<text transform="translate(607.10,362.10) rotate(-90)" font-size="7.05" font-weight="bold" fill="#231f20" text-anchor="middle">Counts (a.u.)</text>
<line x1="516.50" y1="403.00" x2="551.50" y2="403.00" stroke="#141012" stroke-width="1.4" />
<text x="534.00" y="398.20" font-size="9.3" font-weight="bold" fill="#231f20" text-anchor="middle" >1 μm</text>
<rect x="497.10" y="328.30" width="4.20" height="68.30" fill="url(#cbPL)" stroke="#4a4042" stroke-width="0.9" />
<text x="497.80" y="325.70" font-size="10" font-weight="bold" fill="#231f20" text-anchor="middle" textLength="20.4" lengthAdjust="spacingAndGlyphs">6300</text>
<text x="499.20" y="406.30" font-size="9.3" font-weight="bold" fill="#231f20" text-anchor="middle" >0</text>
<text transform="translate(485.60,304.20) rotate(-90)" font-size="12" font-weight="bold" fill="#231f20" text-anchor="middle">PL Intensity (a.u.)</text>
<line x1="83.70" y1="429.30" x2="83.70" y2="571.30" stroke="#7f98c8" stroke-width="1.1" stroke-dasharray="4,2.5"/>
<circle cx="40.90" cy="449.15" r="2.2" fill="#7d96c8"/><circle cx="43.50" cy="448.76" r="2.2" fill="#7d96c8"/><circle cx="46.10" cy="448.47" r="2.2" fill="#7d96c8"/><circle cx="48.70" cy="449.36" r="2.2" fill="#7d96c8"/><circle cx="51.30" cy="450.26" r="2.2" fill="#7d96c8"/><circle cx="53.90" cy="451.77" r="2.2" fill="#7d96c8"/><circle cx="56.50" cy="453.50" r="2.2" fill="#7d96c8"/><circle cx="59.10" cy="455.63" r="2.2" fill="#7d96c8"/><circle cx="61.70" cy="458.32" r="2.2" fill="#7d96c8"/><circle cx="64.30" cy="461.00" r="2.2" fill="#7d96c8"/><circle cx="66.90" cy="464.19" r="2.2" fill="#7d96c8"/><circle cx="69.50" cy="467.39" r="2.2" fill="#7d96c8"/><circle cx="72.10" cy="470.50" r="2.2" fill="#7d96c8"/><circle cx="74.70" cy="473.59" r="2.2" fill="#7d96c8"/><circle cx="77.30" cy="476.68" r="2.2" fill="#7d96c8"/><circle cx="79.90" cy="481.27" r="2.2" fill="#7d96c8"/><circle cx="82.50" cy="485.92" r="2.2" fill="#7d96c8"/><circle cx="85.10" cy="490.17" r="2.2" fill="#7d96c8"/><circle cx="87.70" cy="493.87" r="2.2" fill="#7d96c8"/><circle cx="90.30" cy="497.57" r="2.2" fill="#7d96c8"/><circle cx="92.90" cy="501.27" r="2.2" fill="#7d96c8"/><circle cx="95.50" cy="504.02" r="2.2" fill="#7d96c8"/><circle cx="98.10" cy="506.65" r="2.2" fill="#7d96c8"/><circle cx="100.70" cy="509.27" r="2.2" fill="#7d96c8"/><circle cx="103.30" cy="511.90" r="2.2" fill="#7d96c8"/><circle cx="105.90" cy="514.12" r="2.2" fill="#7d96c8"/><circle cx="108.50" cy="516.26" r="2.2" fill="#7d96c8"/><circle cx="111.10" cy="518.36" r="2.2" fill="#7d96c8"/><circle cx="113.70" cy="520.38" r="2.2" fill="#7d96c8"/><circle cx="116.30" cy="522.41" r="2.2" fill="#7d96c8"/><circle cx="118.90" cy="523.61" r="2.2" fill="#7d96c8"/><circle cx="121.50" cy="524.61" r="2.2" fill="#7d96c8"/><circle cx="124.10" cy="525.04" r="2.2" fill="#7d96c8"/><circle cx="126.70" cy="525.33" r="2.2" fill="#7d96c8"/><circle cx="129.30" cy="525.14" r="2.2" fill="#7d96c8"/><circle cx="131.90" cy="524.81" r="2.2" fill="#7d96c8"/><circle cx="134.50" cy="524.71" r="2.2" fill="#7d96c8"/><circle cx="137.10" cy="524.62" r="2.2" fill="#7d96c8"/><circle cx="139.70" cy="524.23" r="2.2" fill="#7d96c8"/><circle cx="142.30" cy="523.73" r="2.2" fill="#7d96c8"/><circle cx="144.90" cy="523.16" r="2.2" fill="#7d96c8"/><circle cx="147.50" cy="522.45" r="2.2" fill="#7d96c8"/><circle cx="150.10" cy="521.74" r="2.2" fill="#7d96c8"/><circle cx="152.70" cy="520.77" r="2.2" fill="#7d96c8"/><circle cx="155.30" cy="519.66" r="2.2" fill="#7d96c8"/><circle cx="157.90" cy="518.54" r="2.2" fill="#7d96c8"/><circle cx="160.50" cy="517.02" r="2.2" fill="#7d96c8"/><circle cx="163.10" cy="515.49" r="2.2" fill="#7d96c8"/><circle cx="165.70" cy="513.46" r="2.2" fill="#7d96c8"/><circle cx="168.30" cy="511.13" r="2.2" fill="#7d96c8"/><circle cx="170.90" cy="508.43" r="2.2" fill="#7d96c8"/><circle cx="173.50" cy="505.60" r="2.2" fill="#7d96c8"/><circle cx="176.10" cy="502.79" r="2.2" fill="#7d96c8"/><circle cx="178.70" cy="500.00" r="2.2" fill="#7d96c8"/><circle cx="181.30" cy="497.05" r="2.2" fill="#7d96c8"/><circle cx="183.90" cy="493.94" r="2.2" fill="#7d96c8"/><circle cx="186.50" cy="490.50" r="2.2" fill="#7d96c8"/><circle cx="189.10" cy="486.79" r="2.2" fill="#7d96c8"/><circle cx="191.70" cy="483.25" r="2.2" fill="#7d96c8"/><circle cx="194.30" cy="479.82" r="2.2" fill="#7d96c8"/><circle cx="196.90" cy="476.63" r="2.2" fill="#7d96c8"/><circle cx="199.50" cy="473.69" r="2.2" fill="#7d96c8"/><circle cx="202.10" cy="470.79" r="2.2" fill="#7d96c8"/><circle cx="204.70" cy="467.94" r="2.2" fill="#7d96c8"/><circle cx="207.30" cy="465.20" r="2.2" fill="#7d96c8"/><circle cx="209.90" cy="462.60" r="2.2" fill="#7d96c8"/><circle cx="212.50" cy="459.94" r="2.2" fill="#7d96c8"/>
<circle cx="40.90" cy="451.83" r="2.2" fill="#ec9a4f"/><circle cx="43.50" cy="452.12" r="2.2" fill="#ec9a4f"/><circle cx="46.10" cy="452.40" r="2.2" fill="#ec9a4f"/><circle cx="48.70" cy="453.32" r="2.2" fill="#ec9a4f"/><circle cx="51.30" cy="454.59" r="2.2" fill="#ec9a4f"/><circle cx="53.90" cy="455.88" r="2.2" fill="#ec9a4f"/><circle cx="56.50" cy="458.06" r="2.2" fill="#ec9a4f"/><circle cx="59.10" cy="460.25" r="2.2" fill="#ec9a4f"/><circle cx="61.70" cy="462.70" r="2.2" fill="#ec9a4f"/><circle cx="64.30" cy="465.30" r="2.2" fill="#ec9a4f"/><circle cx="66.90" cy="468.32" r="2.2" fill="#ec9a4f"/><circle cx="69.50" cy="471.50" r="2.2" fill="#ec9a4f"/><circle cx="72.10" cy="475.70" r="2.2" fill="#ec9a4f"/><circle cx="74.70" cy="479.90" r="2.2" fill="#ec9a4f"/><circle cx="77.30" cy="484.31" r="2.2" fill="#ec9a4f"/><circle cx="79.90" cy="488.93" r="2.2" fill="#ec9a4f"/><circle cx="82.50" cy="493.54" r="2.2" fill="#ec9a4f"/><circle cx="85.10" cy="498.13" r="2.2" fill="#ec9a4f"/><circle cx="87.70" cy="502.71" r="2.2" fill="#ec9a4f"/><circle cx="90.30" cy="506.89" r="2.2" fill="#ec9a4f"/><circle cx="92.90" cy="510.68" r="2.2" fill="#ec9a4f"/><circle cx="95.50" cy="514.46" r="2.2" fill="#ec9a4f"/><circle cx="98.10" cy="518.09" r="2.2" fill="#ec9a4f"/><circle cx="100.70" cy="521.70" r="2.2" fill="#ec9a4f"/><circle cx="103.30" cy="524.84" r="2.2" fill="#ec9a4f"/><circle cx="105.90" cy="527.51" r="2.2" fill="#ec9a4f"/><circle cx="108.50" cy="530.19" r="2.2" fill="#ec9a4f"/><circle cx="111.10" cy="532.37" r="2.2" fill="#ec9a4f"/><circle cx="113.70" cy="534.46" r="2.2" fill="#ec9a4f"/><circle cx="116.30" cy="536.29" r="2.2" fill="#ec9a4f"/><circle cx="118.90" cy="537.86" r="2.2" fill="#ec9a4f"/><circle cx="121.50" cy="538.80" r="2.2" fill="#ec9a4f"/><circle cx="124.10" cy="539.77" r="2.2" fill="#ec9a4f"/><circle cx="126.70" cy="543.17" r="2.2" fill="#ec9a4f"/><circle cx="129.30" cy="540.95" r="2.2" fill="#ec9a4f"/><circle cx="131.90" cy="541.95" r="2.2" fill="#ec9a4f"/><circle cx="134.50" cy="541.06" r="2.2" fill="#ec9a4f"/><circle cx="137.10" cy="539.68" r="2.2" fill="#ec9a4f"/><circle cx="139.70" cy="540.40" r="2.2" fill="#ec9a4f"/><circle cx="142.30" cy="537.58" r="2.2" fill="#ec9a4f"/><circle cx="144.90" cy="537.76" r="2.2" fill="#ec9a4f"/><circle cx="147.50" cy="535.00" r="2.2" fill="#ec9a4f"/><circle cx="150.10" cy="535.10" r="2.2" fill="#ec9a4f"/><circle cx="152.70" cy="533.34" r="2.2" fill="#ec9a4f"/><circle cx="155.30" cy="531.42" r="2.2" fill="#ec9a4f"/><circle cx="157.90" cy="529.45" r="2.2" fill="#ec9a4f"/><circle cx="160.50" cy="527.21" r="2.2" fill="#ec9a4f"/><circle cx="163.10" cy="524.96" r="2.2" fill="#ec9a4f"/><circle cx="165.70" cy="522.11" r="2.2" fill="#ec9a4f"/><circle cx="168.30" cy="518.87" r="2.2" fill="#ec9a4f"/><circle cx="170.90" cy="515.62" r="2.2" fill="#ec9a4f"/><circle cx="173.50" cy="511.61" r="2.2" fill="#ec9a4f"/><circle cx="176.10" cy="507.57" r="2.2" fill="#ec9a4f"/><circle cx="178.70" cy="503.84" r="2.2" fill="#ec9a4f"/><circle cx="181.30" cy="500.39" r="2.2" fill="#ec9a4f"/><circle cx="183.90" cy="496.93" r="2.2" fill="#ec9a4f"/><circle cx="186.50" cy="493.60" r="2.2" fill="#ec9a4f"/><circle cx="189.10" cy="490.27" r="2.2" fill="#ec9a4f"/><circle cx="191.70" cy="487.20" r="2.2" fill="#ec9a4f"/><circle cx="194.30" cy="484.40" r="2.2" fill="#ec9a4f"/><circle cx="196.90" cy="481.61" r="2.2" fill="#ec9a4f"/><circle cx="199.50" cy="479.19" r="2.2" fill="#ec9a4f"/><circle cx="202.10" cy="476.79" r="2.2" fill="#ec9a4f"/><circle cx="204.70" cy="474.41" r="2.2" fill="#ec9a4f"/><circle cx="207.30" cy="472.05" r="2.2" fill="#ec9a4f"/><circle cx="209.90" cy="469.74" r="2.2" fill="#ec9a4f"/><circle cx="212.50" cy="467.56" r="2.2" fill="#ec9a4f"/>
<circle cx="40.90" cy="454.62" r="2.2" fill="#c3153f"/><circle cx="43.50" cy="455.63" r="2.2" fill="#c3153f"/><circle cx="46.10" cy="456.65" r="2.2" fill="#c3153f"/><circle cx="48.70" cy="458.00" r="2.2" fill="#c3153f"/><circle cx="51.30" cy="459.53" r="2.2" fill="#c3153f"/><circle cx="53.90" cy="461.10" r="2.2" fill="#c3153f"/><circle cx="56.50" cy="463.83" r="2.2" fill="#c3153f"/><circle cx="59.10" cy="466.56" r="2.2" fill="#c3153f"/><circle cx="61.70" cy="469.71" r="2.2" fill="#c3153f"/><circle cx="64.30" cy="473.09" r="2.2" fill="#c3153f"/><circle cx="66.90" cy="476.83" r="2.2" fill="#c3153f"/><circle cx="69.50" cy="480.70" r="2.2" fill="#c3153f"/><circle cx="72.10" cy="485.48" r="2.2" fill="#c3153f"/><circle cx="74.70" cy="490.27" r="2.2" fill="#c3153f"/><circle cx="77.30" cy="495.09" r="2.2" fill="#c3153f"/><circle cx="79.90" cy="500.23" r="2.2" fill="#c3153f"/><circle cx="82.50" cy="505.37" r="2.2" fill="#c3153f"/><circle cx="85.10" cy="510.50" r="2.2" fill="#c3153f"/><circle cx="87.70" cy="515.95" r="2.2" fill="#c3153f"/><circle cx="90.30" cy="521.42" r="2.2" fill="#c3153f"/><circle cx="92.90" cy="526.90" r="2.2" fill="#c3153f"/><circle cx="95.50" cy="532.38" r="2.2" fill="#c3153f"/><circle cx="98.10" cy="537.87" r="2.2" fill="#c3153f"/><circle cx="100.70" cy="542.33" r="2.2" fill="#c3153f"/><circle cx="103.30" cy="545.86" r="2.2" fill="#c3153f"/><circle cx="105.90" cy="548.58" r="2.2" fill="#c3153f"/><circle cx="108.50" cy="550.31" r="2.2" fill="#c3153f"/><circle cx="111.10" cy="551.82" r="2.2" fill="#c3153f"/><circle cx="113.70" cy="552.36" r="2.2" fill="#c3153f"/><circle cx="116.30" cy="552.90" r="2.2" fill="#c3153f"/><circle cx="118.90" cy="553.32" r="2.2" fill="#c3153f"/><circle cx="121.50" cy="553.72" r="2.2" fill="#c3153f"/><circle cx="124.10" cy="554.00" r="2.2" fill="#c3153f"/><circle cx="126.70" cy="554.24" r="2.2" fill="#c3153f"/><circle cx="129.30" cy="553.96" r="2.2" fill="#c3153f"/><circle cx="131.90" cy="553.52" r="2.2" fill="#c3153f"/><circle cx="134.50" cy="552.72" r="2.2" fill="#c3153f"/><circle cx="137.10" cy="551.92" r="2.2" fill="#c3153f"/><circle cx="139.70" cy="550.81" r="2.2" fill="#c3153f"/><circle cx="142.30" cy="549.60" r="2.2" fill="#c3153f"/><circle cx="144.90" cy="548.32" r="2.2" fill="#c3153f"/><circle cx="147.50" cy="546.95" r="2.2" fill="#c3153f"/><circle cx="150.10" cy="545.58" r="2.2" fill="#c3153f"/><circle cx="152.70" cy="543.71" r="2.2" fill="#c3153f"/><circle cx="155.30" cy="541.59" r="2.2" fill="#c3153f"/><circle cx="157.90" cy="539.41" r="2.2" fill="#c3153f"/><circle cx="160.50" cy="536.85" r="2.2" fill="#c3153f"/><circle cx="163.10" cy="534.28" r="2.2" fill="#c3153f"/><circle cx="165.70" cy="531.33" r="2.2" fill="#c3153f"/><circle cx="168.30" cy="528.13" r="2.2" fill="#c3153f"/><circle cx="170.90" cy="524.92" r="2.2" fill="#c3153f"/><circle cx="173.50" cy="521.39" r="2.2" fill="#c3153f"/><circle cx="176.10" cy="517.84" r="2.2" fill="#c3153f"/><circle cx="178.70" cy="514.53" r="2.2" fill="#c3153f"/><circle cx="181.30" cy="511.42" r="2.2" fill="#c3153f"/><circle cx="183.90" cy="508.32" r="2.2" fill="#c3153f"/><circle cx="186.50" cy="505.15" r="2.2" fill="#c3153f"/><circle cx="189.10" cy="501.98" r="2.2" fill="#c3153f"/><circle cx="191.70" cy="498.84" r="2.2" fill="#c3153f"/><circle cx="194.30" cy="495.73" r="2.2" fill="#c3153f"/><circle cx="196.90" cy="492.62" r="2.2" fill="#c3153f"/><circle cx="199.50" cy="489.50" r="2.2" fill="#c3153f"/><circle cx="202.10" cy="486.38" r="2.2" fill="#c3153f"/><circle cx="204.70" cy="483.35" r="2.2" fill="#c3153f"/><circle cx="207.30" cy="480.42" r="2.2" fill="#c3153f"/><circle cx="209.90" cy="477.47" r="2.2" fill="#c3153f"/><circle cx="212.50" cy="474.51" r="2.2" fill="#c3153f"/>
<rect x="40.00" y="429.30" width="175.00" height="142.00" fill="none" stroke="#231f20" stroke-width="1.5" />
<line x1="37.00" y1="556.60" x2="40.00" y2="556.60" stroke="#231f20" stroke-width="1.0" />
<text x="35.50" y="561.50" font-size="10.4" font-weight="bold" fill="#231f20" text-anchor="end">10<tspan font-size="7.2" dy="-4.2">16</tspan></text>
<line x1="37.00" y1="507.60" x2="40.00" y2="507.60" stroke="#231f20" stroke-width="1.0" />
<text x="35.50" y="512.50" font-size="10.4" font-weight="bold" fill="#231f20" text-anchor="end">10<tspan font-size="7.2" dy="-4.2">17</tspan></text>
<line x1="37.00" y1="458.60" x2="40.00" y2="458.60" stroke="#231f20" stroke-width="1.0" />
<text x="35.50" y="463.50" font-size="10.4" font-weight="bold" fill="#231f20" text-anchor="end">10<tspan font-size="7.2" dy="-4.2">18</tspan></text>
<line x1="38.20" y1="567.47" x2="40.00" y2="567.47" stroke="#231f20" stroke-width="0.8" />
<line x1="38.20" y1="564.19" x2="40.00" y2="564.19" stroke="#231f20" stroke-width="0.8" />
<line x1="38.20" y1="561.35" x2="40.00" y2="561.35" stroke="#231f20" stroke-width="0.8" />
<line x1="38.20" y1="558.84" x2="40.00" y2="558.84" stroke="#231f20" stroke-width="0.8" />
<line x1="38.20" y1="541.85" x2="40.00" y2="541.85" stroke="#231f20" stroke-width="0.8" />
<line x1="38.20" y1="533.22" x2="40.00" y2="533.22" stroke="#231f20" stroke-width="0.8" />
<line x1="38.20" y1="527.10" x2="40.00" y2="527.10" stroke="#231f20" stroke-width="0.8" />
<line x1="38.20" y1="522.35" x2="40.00" y2="522.35" stroke="#231f20" stroke-width="0.8" />
<line x1="38.20" y1="518.47" x2="40.00" y2="518.47" stroke="#231f20" stroke-width="0.8" />
<line x1="38.20" y1="515.19" x2="40.00" y2="515.19" stroke="#231f20" stroke-width="0.8" />
<line x1="38.20" y1="512.35" x2="40.00" y2="512.35" stroke="#231f20" stroke-width="0.8" />
<line x1="38.20" y1="509.84" x2="40.00" y2="509.84" stroke="#231f20" stroke-width="0.8" />
<line x1="38.20" y1="492.85" x2="40.00" y2="492.85" stroke="#231f20" stroke-width="0.8" />
<line x1="38.20" y1="484.22" x2="40.00" y2="484.22" stroke="#231f20" stroke-width="0.8" />
<line x1="38.20" y1="478.10" x2="40.00" y2="478.10" stroke="#231f20" stroke-width="0.8" />
<line x1="38.20" y1="473.35" x2="40.00" y2="473.35" stroke="#231f20" stroke-width="0.8" />
<line x1="38.20" y1="469.47" x2="40.00" y2="469.47" stroke="#231f20" stroke-width="0.8" />
<line x1="38.20" y1="466.19" x2="40.00" y2="466.19" stroke="#231f20" stroke-width="0.8" />
<line x1="38.20" y1="463.35" x2="40.00" y2="463.35" stroke="#231f20" stroke-width="0.8" />
<line x1="38.20" y1="460.84" x2="40.00" y2="460.84" stroke="#231f20" stroke-width="0.8" />
<line x1="38.20" y1="443.85" x2="40.00" y2="443.85" stroke="#231f20" stroke-width="0.8" />
<line x1="38.20" y1="435.22" x2="40.00" y2="435.22" stroke="#231f20" stroke-width="0.8" />
<line x1="40.00" y1="571.30" x2="40.00" y2="574.30" stroke="#231f20" stroke-width="1.0" />
<text x="40.00" y="584.80" font-size="10.6" font-weight="bold" fill="#231f20" text-anchor="middle" >0.35</text>
<line x1="61.88" y1="571.30" x2="61.88" y2="573.10" stroke="#231f20" stroke-width="0.9" />
<line x1="83.75" y1="571.30" x2="83.75" y2="574.30" stroke="#231f20" stroke-width="1.0" />
<text x="83.75" y="584.80" font-size="10.6" font-weight="bold" fill="#231f20" text-anchor="middle" >0.40</text>
<line x1="105.62" y1="571.30" x2="105.62" y2="573.10" stroke="#231f20" stroke-width="0.9" />
<line x1="127.50" y1="571.30" x2="127.50" y2="574.30" stroke="#231f20" stroke-width="1.0" />
<text x="127.50" y="584.80" font-size="10.6" font-weight="bold" fill="#231f20" text-anchor="middle" >0.45</text>
<line x1="149.38" y1="571.30" x2="149.38" y2="573.10" stroke="#231f20" stroke-width="0.9" />
<line x1="171.25" y1="571.30" x2="171.25" y2="574.30" stroke="#231f20" stroke-width="1.0" />
<text x="171.25" y="584.80" font-size="10.6" font-weight="bold" fill="#231f20" text-anchor="middle" >0.50</text>
<line x1="193.12" y1="571.30" x2="193.12" y2="573.10" stroke="#231f20" stroke-width="0.9" />
<line x1="215.00" y1="571.30" x2="215.00" y2="574.30" stroke="#231f20" stroke-width="1.0" />
<text x="215.00" y="584.80" font-size="10.6" font-weight="bold" fill="#231f20" text-anchor="middle" >0.55</text>
<text x="100.30" y="597.60" font-size="12" font-weight="bold" fill="#231f20" text-anchor="start" font-style="italic" >E</text>
<text x="108.60" y="601.60" font-size="7.5" font-weight="normal" fill="#231f20" text-anchor="start" font-style="italic" >ω</text>
<text x="120.20" y="597.60" font-size="12" font-weight="bold" fill="#231f20" text-anchor="start" >(eV)</text>
<text transform="translate(12.70,502.00) rotate(-90)" font-size="11.7" font-weight="bold" fill="#231f20" text-anchor="middle">DOS (m<tspan font-size="7.5" dy="-4">-3</tspan><tspan dy="4"> eV</tspan><tspan font-size="7.5" dy="-4">-1</tspan><tspan dy="4">)</tspan></text>
<text x="46.50" y="558.40" font-size="10.4" font-weight="bold" fill="#231f20" text-anchor="start" >Band 1</text>
<text x="170.00" y="558.60" font-size="10.4" font-weight="bold" fill="#231f20" text-anchor="start" >Band 2</text>
<circle cx="143.6" cy="439.00" r="2.5" fill="#7d96c8"/>
<text x="150.40" y="443.10" font-size="11.7" font-weight="bold" fill="#231f20" text-anchor="start" >Control</text>
<circle cx="143.6" cy="453.60" r="2.5" fill="#ec9a4f"/>
<text x="150.40" y="457.70" font-size="11.7" font-weight="bold" fill="#231f20" text-anchor="start" >AD</text>
<circle cx="143.6" cy="467.40" r="2.5" fill="#c3153f"/>
<text x="150.40" y="471.50" font-size="11.7" font-weight="bold" fill="#231f20" text-anchor="start" >OPD</text>
<rect x="287.90" y="568.48" width="16.30" height="5.12" fill="url(#gRed)"/>
<rect x="306.90" y="458.18" width="15.50" height="115.42" fill="url(#gBlue)"/>
<rect x="332.40" y="523.33" width="16.20" height="50.27" fill="url(#gRed)"/>
<rect x="350.30" y="539.90" width="15.70" height="33.70" fill="url(#gBlue)"/>
<rect x="380.00" y="455.06" width="15.70" height="118.54" fill="url(#gRed)"/>
<rect x="397.20" y="547.76" width="16.00" height="25.84" fill="url(#gBlue)"/>
<text x="295.40" y="566.20" font-size="9.6" font-weight="bold" fill="#c4123f" text-anchor="middle" >7.21</text>
<text x="314.50" y="455.40" font-size="9.6" font-weight="bold" fill="#2f5ba8" text-anchor="middle" >10.41</text>
<text x="339.50" y="520.30" font-size="9.6" font-weight="bold" fill="#c4123f" text-anchor="middle" >74.8</text>
<text x="359.20" y="537.20" font-size="9.6" font-weight="bold" fill="#2f5ba8" text-anchor="middle" >3.02</text>
<text x="388.30" y="452.60" font-size="9.6" font-weight="bold" fill="#c4123f" text-anchor="middle" >177</text>
<text x="405.60" y="545.50" font-size="9.6" font-weight="bold" fill="#2f5ba8" text-anchor="middle" >2.31</text>
<line x1="277.60" y1="428.40" x2="419.90" y2="428.40" stroke="#231f20" stroke-width="1.5" />
<line x1="277.10" y1="573.60" x2="286.00" y2="573.60" stroke="#3a3435" stroke-width="1.6" />
<line x1="286.00" y1="573.60" x2="420.60" y2="573.60" stroke="#2f5ba8" stroke-width="1.6" />
<line x1="277.60" y1="428.40" x2="277.60" y2="573.60" stroke="#c4123f" stroke-width="1.3" />
<line x1="419.90" y1="428.40" x2="419.90" y2="574.30" stroke="#2f5ba8" stroke-width="1.5" />
<line x1="274.60" y1="573.30" x2="277.60" y2="573.30" stroke="#c4123f" stroke-width="1.0" />
<text x="273.70" y="578.30" font-size="11" font-weight="bold" fill="#c4123f" text-anchor="end" >0</text>
<line x1="274.60" y1="546.58" x2="277.60" y2="546.58" stroke="#c4123f" stroke-width="1.0" />
<text x="273.70" y="551.58" font-size="11" font-weight="bold" fill="#c4123f" text-anchor="end" >40</text>
<line x1="274.60" y1="519.86" x2="277.60" y2="519.86" stroke="#c4123f" stroke-width="1.0" />
<text x="273.70" y="524.86" font-size="11" font-weight="bold" fill="#c4123f" text-anchor="end" >80</text>
<line x1="274.60" y1="493.14" x2="277.60" y2="493.14" stroke="#c4123f" stroke-width="1.0" />
<text x="273.70" y="498.14" font-size="11" font-weight="bold" fill="#c4123f" text-anchor="end" >120</text>
<line x1="274.60" y1="466.42" x2="277.60" y2="466.42" stroke="#c4123f" stroke-width="1.0" />
<text x="273.70" y="471.42" font-size="11" font-weight="bold" fill="#c4123f" text-anchor="end" >160</text>
<line x1="274.60" y1="439.70" x2="277.60" y2="439.70" stroke="#c4123f" stroke-width="1.0" />
<text x="273.70" y="444.70" font-size="11" font-weight="bold" fill="#c4123f" text-anchor="end" >200</text>
<line x1="275.80" y1="559.94" x2="277.60" y2="559.94" stroke="#c4123f" stroke-width="0.9" />
<line x1="275.80" y1="533.22" x2="277.60" y2="533.22" stroke="#c4123f" stroke-width="0.9" />
<line x1="275.80" y1="506.50" x2="277.60" y2="506.50" stroke="#c4123f" stroke-width="0.9" />
<line x1="275.80" y1="479.78" x2="277.60" y2="479.78" stroke="#c4123f" stroke-width="0.9" />
<line x1="275.80" y1="453.06" x2="277.60" y2="453.06" stroke="#c4123f" stroke-width="0.9" />
<line x1="419.90" y1="573.30" x2="422.90" y2="573.30" stroke="#2f5ba8" stroke-width="1.0" />
<text x="423.50" y="577.20" font-size="10.8" font-weight="bold" fill="#2f5ba8" text-anchor="start" >0</text>
<line x1="419.90" y1="551.18" x2="422.90" y2="551.18" stroke="#2f5ba8" stroke-width="1.0" />
<text x="423.50" y="555.08" font-size="10.8" font-weight="bold" fill="#2f5ba8" text-anchor="start" >2</text>
<line x1="419.90" y1="529.07" x2="422.90" y2="529.07" stroke="#2f5ba8" stroke-width="1.0" />
<text x="423.50" y="532.97" font-size="10.8" font-weight="bold" fill="#2f5ba8" text-anchor="start" >4</text>
<line x1="419.90" y1="506.95" x2="422.90" y2="506.95" stroke="#2f5ba8" stroke-width="1.0" />
<text x="423.50" y="510.85" font-size="10.8" font-weight="bold" fill="#2f5ba8" text-anchor="start" >6</text>
<line x1="419.90" y1="484.83" x2="422.90" y2="484.83" stroke="#2f5ba8" stroke-width="1.0" />
<text x="423.50" y="488.73" font-size="10.8" font-weight="bold" fill="#2f5ba8" text-anchor="start" >8</text>
<line x1="419.90" y1="462.72" x2="422.90" y2="462.72" stroke="#2f5ba8" stroke-width="1.0" />
<text x="423.50" y="466.62" font-size="10.8" font-weight="bold" fill="#2f5ba8" text-anchor="start" >10</text>
<line x1="419.90" y1="440.60" x2="422.90" y2="440.60" stroke="#2f5ba8" stroke-width="1.0" />
<text x="423.50" y="444.50" font-size="10.8" font-weight="bold" fill="#2f5ba8" text-anchor="start" >12</text>
<line x1="419.90" y1="562.24" x2="421.70" y2="562.24" stroke="#2f5ba8" stroke-width="0.9" />
<line x1="419.90" y1="540.12" x2="421.70" y2="540.12" stroke="#2f5ba8" stroke-width="0.9" />
<line x1="419.90" y1="518.01" x2="421.70" y2="518.01" stroke="#2f5ba8" stroke-width="0.9" />
<line x1="419.90" y1="495.89" x2="421.70" y2="495.89" stroke="#2f5ba8" stroke-width="0.9" />
<line x1="419.90" y1="473.77" x2="421.70" y2="473.77" stroke="#2f5ba8" stroke-width="0.9" />
<line x1="419.90" y1="451.66" x2="421.70" y2="451.66" stroke="#2f5ba8" stroke-width="0.9" />
<line x1="304.40" y1="573.60" x2="304.40" y2="576.60" stroke="#231f20" stroke-width="1.0" />
<text x="305.40" y="592.50" font-size="11.7" font-weight="bold" fill="#231f20" text-anchor="middle" >Control</text>
<line x1="349.30" y1="573.60" x2="349.30" y2="576.60" stroke="#231f20" stroke-width="1.0" />
<text x="350.30" y="592.50" font-size="11.7" font-weight="bold" fill="#231f20" text-anchor="middle" >AD</text>
<line x1="395.10" y1="573.60" x2="395.10" y2="576.60" stroke="#231f20" stroke-width="1.0" />
<text x="396.10" y="592.50" font-size="11.7" font-weight="bold" fill="#231f20" text-anchor="middle" >OPD</text>
<text transform="translate(249.20,505.00) rotate(-90)" font-size="11.7" font-weight="bold" fill="#c4123f" text-anchor="middle"><tspan font-style="italic">μ</tspan> (10<tspan font-size="7.5" dy="-4">-5</tspan><tspan dy="4">cm</tspan><tspan font-size="7.5" dy="-4">2</tspan><tspan dy="4">V</tspan><tspan font-size="7.5" dy="-4">-1</tspan><tspan dy="4">s</tspan><tspan font-size="7.5" dy="-4">-1</tspan><tspan dy="4">)</tspan></text>
<text transform="translate(444.60,504.00) rotate(-90)" font-size="11.7" font-weight="bold" fill="#2f5ba8" text-anchor="middle"><tspan font-style="italic">N</tspan><tspan font-size="7.5" dy="3">t</tspan><tspan dy="-3"> (10</tspan><tspan font-size="7.5" dy="-4">15</tspan><tspan dy="4">cm</tspan><tspan font-size="7.5" dy="-4">-3</tspan><tspan dy="4">)</tspan></text>
<rect x="527.80" y="511.53" width="18.60" height="62.07" fill="url(#gBlue)"/>
<rect x="546.40" y="502.79" width="18.40" height="70.81" fill="url(#gOrg)"/>
<rect x="564.80" y="469.61" width="19.00" height="104.00" fill="url(#gRed)"/>
<rect x="610.20" y="526.10" width="18.90" height="47.50" fill="url(#gBlue)"/>
<rect x="629.10" y="508.29" width="18.90" height="65.31" fill="url(#gOrg)"/>
<rect x="648.00" y="463.29" width="18.20" height="110.31" fill="url(#gRed)"/>
<text x="536.10" y="509.03" font-size="9.6" font-weight="bold" fill="#231f20" text-anchor="middle" >389</text>
<text x="554.60" y="500.29" font-size="9.6" font-weight="bold" fill="#231f20" text-anchor="middle" >443</text>
<text x="573.30" y="467.11" font-size="9.6" font-weight="bold" fill="#231f20" text-anchor="middle" >648</text>
<text x="618.65" y="523.60" font-size="9.6" font-weight="bold" fill="#231f20" text-anchor="middle" >299</text>
<text x="637.55" y="505.79" font-size="9.6" font-weight="bold" fill="#231f20" text-anchor="middle" >409</text>
<text x="656.10" y="460.79" font-size="9.6" font-weight="bold" fill="#231f20" text-anchor="middle" >687</text>
<line x1="594.80" y1="451.20" x2="594.80" y2="573.70" stroke="#231f20" stroke-width="1.3" stroke-dasharray="2.6,2.4"/>
<rect x="510.90" y="429.00" width="169.70" height="145.90" fill="none" stroke="#231f20" stroke-width="1.5" />
<line x1="507.90" y1="574.50" x2="510.90" y2="574.50" stroke="#231f20" stroke-width="1.0" />
<text x="507.60" y="577.00" font-size="11" font-weight="bold" fill="#231f20" text-anchor="end" >0</text>
<line x1="507.90" y1="542.12" x2="510.90" y2="542.12" stroke="#231f20" stroke-width="1.0" />
<text x="507.60" y="544.62" font-size="11" font-weight="bold" fill="#231f20" text-anchor="end" >200</text>
<line x1="507.90" y1="509.75" x2="510.90" y2="509.75" stroke="#231f20" stroke-width="1.0" />
<text x="507.60" y="512.25" font-size="11" font-weight="bold" fill="#231f20" text-anchor="end" >400</text>
<line x1="507.90" y1="477.38" x2="510.90" y2="477.38" stroke="#231f20" stroke-width="1.0" />
<text x="507.60" y="479.88" font-size="11" font-weight="bold" fill="#231f20" text-anchor="end" >600</text>
<line x1="507.90" y1="445.00" x2="510.90" y2="445.00" stroke="#231f20" stroke-width="1.0" />
<text x="507.60" y="447.50" font-size="11" font-weight="bold" fill="#231f20" text-anchor="end" >800</text>
<line x1="509.10" y1="558.31" x2="510.90" y2="558.31" stroke="#231f20" stroke-width="0.9" />
<line x1="509.10" y1="525.94" x2="510.90" y2="525.94" stroke="#231f20" stroke-width="0.9" />
<line x1="509.10" y1="493.56" x2="510.90" y2="493.56" stroke="#231f20" stroke-width="0.9" />
<line x1="509.10" y1="461.19" x2="510.90" y2="461.19" stroke="#231f20" stroke-width="0.9" />
<line x1="555.90" y1="574.90" x2="555.90" y2="577.90" stroke="#231f20" stroke-width="1.0" />
<line x1="650.40" y1="574.90" x2="650.40" y2="577.90" stroke="#231f20" stroke-width="1.0" />
<text x="560.50" y="592.10" font-size="11.7" font-weight="bold" fill="#231f20" text-anchor="middle" >Electron</text>
<text x="653.60" y="592.10" font-size="11.7" font-weight="bold" fill="#231f20" text-anchor="middle" >Hole</text>
<text transform="translate(486.40,504.00) rotate(-90)" font-size="11.9" font-weight="bold" fill="#231f20" text-anchor="middle">Diffusion Length (nm)</text>
<rect x="518.20" y="434.00" width="14.40" height="7.00" fill="#7d93bf" stroke="none" stroke-width="1" />
<text x="536.70" y="442.00" font-size="11.7" font-weight="bold" fill="#231f20" text-anchor="start" >Control</text>
<rect x="586.60" y="434.00" width="14.40" height="7.00" fill="#eb9a52" stroke="none" stroke-width="1" />
<text x="605.10" y="442.00" font-size="11.7" font-weight="bold" fill="#231f20" text-anchor="start" >AD</text>
<rect x="633.40" y="434.00" width="14.40" height="7.00" fill="#c3153f" stroke="none" stroke-width="1" />
<text x="651.90" y="442.00" font-size="11.7" font-weight="bold" fill="#231f20" text-anchor="start" >OPD</text>
</svg>
</body></html>
